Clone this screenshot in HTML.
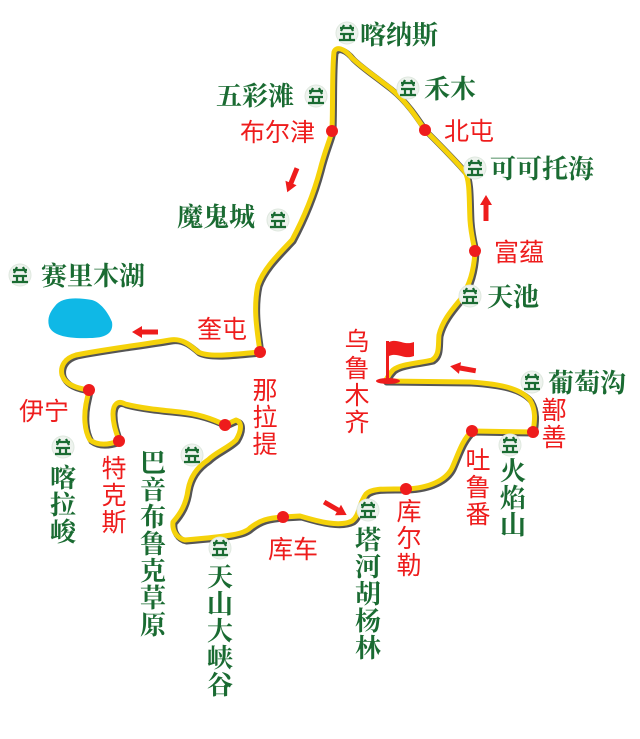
<!DOCTYPE html>
<html><head><meta charset="utf-8"><style>
html,body{margin:0;padding:0;background:#fff;}
svg{display:block;}
.g{font-family:"Noto Serif CJK SC","Liberation Serif",serif;font-weight:bold;fill:#1a6b32;font-size:26px;}
.r{font-family:"Liberation Sans","Noto Sans CJK SC",sans-serif;fill:#ee1c1c;font-size:25px;}
</style></head><body>
<svg width="640" height="739" viewBox="0 0 640 739" xmlns="http://www.w3.org/2000/svg">
<defs>
<g id="ic">
<circle r="11" fill="#eef3ee" stroke="#dfe8df" stroke-width="1"/>
<path d="M-7,-5 H7 M-3,-8 L-6,-2 M3,-8 L6,-2 M-7,1 H7 M-3,1 V7 M3,1 V7 M-8,7 H8" stroke="#1a6b32" stroke-width="2.2" fill="none"/>
</g>
<g id="ar"><path d="M0,-2.5 H-16 V2.5 H0 V6 L10,0 L0,-6 Z" fill="#ee1c1c"/></g>
</defs>
<path d="M55,306 C62,296 80,298 92,300 C100,302 108,312 112,322 C114,334 104,338 90,338 C70,339 52,336 49,326 C47,318 50,312 55,306 Z" fill="#0fb8e6"/>
<g fill="none" stroke-linecap="round" stroke-linejoin="round">
<path d="M385,381 L470,382 C500,384 520,388 530,400 C536,410 535,420 533,432 L472,431 C462,440 458,455 452,468 C446,480 430,488 406,489 C385,489 372,488 366,494 C358,505 360,515 352,521 C340,527 320,522 300,516 L283,517 C268,518 260,520 250,528 C244,534 232,536 185,540 C176,538 172,530 173,522 C180,514 186,505 188,490 C190,478 196,468 208,460 C216,452 228,448 236,440 C242,430 242,422 236,420 L225,425 C215,420 200,414 180,412 C160,410 140,408 125,404 C118,400 113,404 113,414 C113,425 117,434 119,441 C108,445 98,446 90,440 C84,430 84,415 86,404 L89,390 C75,388 65,384 62,375 C60,366 65,358 76,355 C100,350 140,345 170,340 C182,338 190,345 198,352 C210,358 236,354 260,352 C257,330 253,308 258,285 C264,268 278,255 292,240 C300,225 312,200 320,170 C325,150 330,140 332,131 C333,100 332,70 334,52 C336,46 344,48 352,58 C360,66 372,74 390,88 C405,100 415,115 425,130 C440,145 455,160 465,172 C470,180 469,200 470,220 C471,235 474,245 475,251 C474,270 470,285 460,300 C450,312 442,322 439,335 C438,345 440,355 432,360 C420,363 400,364 393,370 C388,375 387,379 385,381"
 stroke="#555" stroke-width="6" transform="translate(1.5,1.5)"/>
<path d="M385,381 L470,382 C500,384 520,388 530,400 C536,410 535,420 533,432 L472,431 C462,440 458,455 452,468 C446,480 430,488 406,489 C385,489 372,488 366,494 C358,505 360,515 352,521 C340,527 320,522 300,516 L283,517 C268,518 260,520 250,528 C244,534 232,536 185,540 C176,538 172,530 173,522 C180,514 186,505 188,490 C190,478 196,468 208,460 C216,452 228,448 236,440 C242,430 242,422 236,420 L225,425 C215,420 200,414 180,412 C160,410 140,408 125,404 C118,400 113,404 113,414 C113,425 117,434 119,441 C108,445 98,446 90,440 C84,430 84,415 86,404 L89,390 C75,388 65,384 62,375 C60,366 65,358 76,355 C100,350 140,345 170,340 C182,338 190,345 198,352 C210,358 236,354 260,352 C257,330 253,308 258,285 C264,268 278,255 292,240 C300,225 312,200 320,170 C325,150 330,140 332,131 C333,100 332,70 334,52 C336,46 344,48 352,58 C360,66 372,74 390,88 C405,100 415,115 425,130 C440,145 455,160 465,172 C470,180 469,200 470,220 C471,235 474,245 475,251 C474,270 470,285 460,300 C450,312 442,322 439,335 C438,345 440,355 432,360 C420,363 400,364 393,370 C388,375 387,379 385,381"
 stroke="#f5d20a" stroke-width="5"/>
</g>
<ellipse cx="388" cy="381" rx="12" ry="3" fill="#ee1c1c"/>
<rect x="386" y="341" width="3" height="40" fill="#ee1c1c"/>
<path d="M389,342 C398,338 404,346 414,342 L414,356 C404,360 398,352 389,356 Z" fill="#ee1c1c"/>
<g fill="#ee1c1c">
<circle cx="332" cy="131" r="6"/><circle cx="425" cy="130" r="6"/><circle cx="475" cy="251" r="6"/>
<circle cx="260" cy="352" r="6"/><circle cx="89" cy="390" r="6"/><circle cx="119" cy="441" r="6"/>
<circle cx="225" cy="425" r="6"/><circle cx="533" cy="432" r="6"/><circle cx="472" cy="431" r="6"/>
<circle cx="406" cy="489" r="6"/><circle cx="283" cy="517" r="6"/>
</g>
<use href="#ar" transform="translate(291,183) rotate(112)"/>
<use href="#ar" transform="translate(486,205) rotate(-90)"/>
<use href="#ar" transform="translate(142,332) rotate(180)"/>
<use href="#ar" transform="translate(460,368) rotate(190)"/>
<use href="#ar" transform="translate(338,510) rotate(30)"/>
<use href="#ic" x="347" y="33"/><use href="#ic" x="408" y="88"/><use href="#ic" x="475" y="168"/>
<use href="#ic" x="316" y="96"/><use href="#ic" x="278" y="220"/><use href="#ic" x="20" y="275"/>
<use href="#ic" x="470" y="296"/><use href="#ic" x="532" y="382"/><use href="#ic" x="510" y="445"/>
<use href="#ic" x="368" y="510"/><use href="#ic" x="220" y="548"/><use href="#ic" x="192" y="455"/>
<use href="#ic" x="63" y="447"/>
<text class="g" x="360" y="44">喀纳斯</text>
<text class="g" x="424" y="98">禾木</text>
<text class="g" x="490" y="178">可可托海</text>
<text class="g" x="216" y="105">五彩滩</text>
<text class="g" x="177" y="226">魔鬼城</text>
<text class="g" x="41" y="285">赛里木湖</text>
<text class="g" x="487" y="306">天池</text>
<text class="g" x="548" y="392">葡萄沟</text>
<g class="g" text-anchor="middle">
<text x="513" y="480">火</text><text x="513" y="507">焰</text><text x="513" y="534">山</text>
<text x="368" y="549">塔</text><text x="368" y="576">河</text><text x="368" y="603">胡</text><text x="368" y="630">杨</text><text x="368" y="657">林</text>
<text x="220" y="586">天</text><text x="220" y="613">山</text><text x="220" y="640">大</text><text x="220" y="667">峡</text><text x="220" y="694">谷</text>
<text x="153" y="472">巴</text><text x="153" y="499">音</text><text x="153" y="526">布</text><text x="153" y="553">鲁</text><text x="153" y="580">克</text><text x="153" y="607">草</text><text x="153" y="634">原</text>
<text x="63" y="487">喀</text><text x="63" y="514">拉</text><text x="63" y="541">峻</text>
</g>
<text class="r" x="240" y="141">布尔津</text>
<text class="r" x="444" y="140">北屯</text>
<text class="r" x="494" y="261">富蕴</text>
<text class="r" x="197" y="338">奎屯</text>
<text class="r" x="19" y="420">伊宁</text>
<text class="r" x="268" y="558">库车</text>
<g class="r" text-anchor="middle">
<text x="114" y="477">特</text><text x="114" y="504">克</text><text x="114" y="531">斯</text>
<text x="265" y="399">那</text><text x="265" y="426">拉</text><text x="265" y="453">提</text>
<text x="357" y="350">乌</text><text x="357" y="377">鲁</text><text x="357" y="404">木</text><text x="357" y="431">齐</text>
<text x="554" y="419">鄯</text><text x="554" y="446">善</text>
<text x="478" y="469">吐</text><text x="478" y="496">鲁</text><text x="478" y="523">番</text>
<text x="409" y="520">库</text><text x="409" y="547">尔</text><text x="409" y="574">勒</text>
</g>
</svg>
</body></html>
